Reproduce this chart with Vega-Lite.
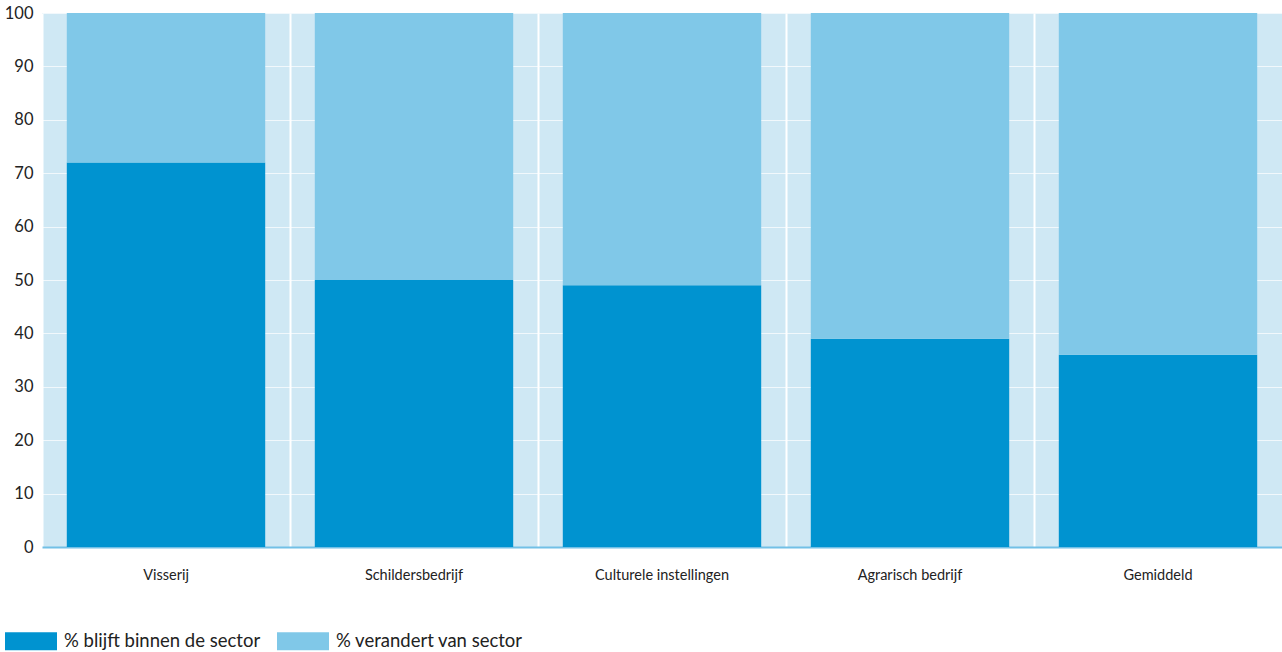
{
  "$schema": "https://vega.github.io/schema/vega-lite/v6.json",
  "width": 1240,
  "height": 534,
  "autosize": {"type": "none"},
  "padding": {"left": 42, "top": 13, "right": 0, "bottom": 105},
  "background": "white",
  "config": {"view": {"fill": "#cfe8f4", "stroke": null}, "font": "Lato"},
  "data": {
    "values": [
      {"sector": "Visserij", "type": "% blijft binnen de sector", "value": 72, "ord": 1},
      {"sector": "Visserij", "type": "% verandert van sector", "value": 28, "ord": 2},
      {"sector": "Schildersbedrijf", "type": "% blijft binnen de sector", "value": 50, "ord": 1},
      {"sector": "Schildersbedrijf", "type": "% verandert van sector", "value": 50, "ord": 2},
      {"sector": "Culturele instellingen", "type": "% blijft binnen de sector", "value": 49, "ord": 1},
      {"sector": "Culturele instellingen", "type": "% verandert van sector", "value": 51, "ord": 2},
      {"sector": "Agrarisch bedrijf", "type": "% blijft binnen de sector", "value": 39, "ord": 1},
      {"sector": "Agrarisch bedrijf", "type": "% verandert van sector", "value": 61, "ord": 2},
      {"sector": "Gemiddeld", "type": "% blijft binnen de sector", "value": 36, "ord": 1},
      {"sector": "Gemiddeld", "type": "% verandert van sector", "value": 64, "ord": 2}
    ]
  },
  "mark": {"type": "bar"},
  "encoding": {
    "x": {
      "field": "sector", "type": "nominal", "sort": null,
      "scale": {"paddingInner": 0.2, "paddingOuter": 0.1},
      "axis": {
        "title": null, "labelAngle": 0, "ticks": false, "bandPosition": -0.125,
        "grid": true, "gridColor": "white", "gridWidth": 2, "gridOpacity": 1,
        "domainColor": "#72c0e6", "domainWidth": 2,
        "labelFontSize": 14.5, "labelColor": "#222222", "labelPadding": 21
      }
    },
    "y": {
      "field": "value", "type": "quantitative", "stack": "zero",
      "scale": {"domain": [0, 100], "nice": false},
      "axis": {
        "title": null, "values": [0, 10, 20, 30, 40, 50, 60, 70, 80, 90, 100],
        "domain": false, "ticks": false, "grid": true, "gridColor": "white", "gridOpacity": 0.7, "gridWidth": 1,
        "labelFontSize": 16.5, "labelColor": "#222222", "labelPadding": 9
      }
    },
    "color": {
      "field": "type", "type": "nominal",
      "scale": {"domain": ["% blijft binnen de sector", "% verandert van sector"], "range": ["#0093d0", "#80c8e8"]},
      "legend": {
        "title": null, "orient": "none", "legendX": -37, "legendY": 602, "direction": "horizontal",
        "symbolType": "M-1,-0.346H1V0.346H-1Z", "symbolSize": 2704, "symbolStrokeWidth": 0,
        "labelFontSize": 18.5, "labelLimit": 0, "labelColor": "#222222", "labelOffset": 7, "columnPadding": 16
      }
    },
    "order": {"field": "ord"}
  }
}
